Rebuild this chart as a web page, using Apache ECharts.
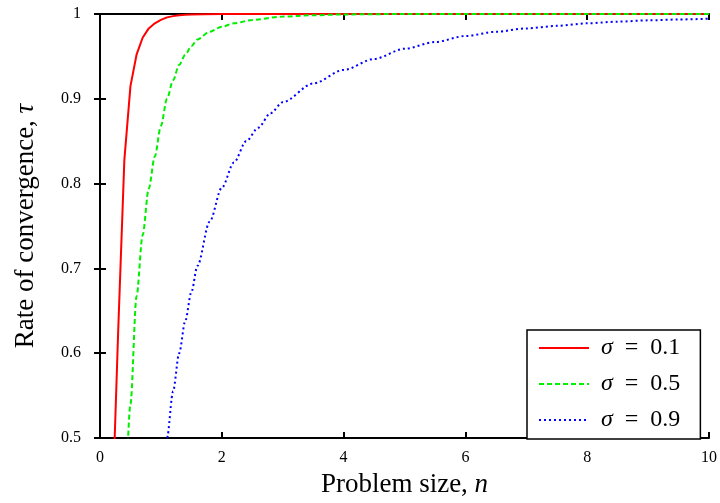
<!DOCTYPE html>
<html>
<head>
<meta charset="utf-8">
<script src="https://cdn.jsdelivr.net/npm/echarts@6/dist/echarts.min.js"></script>
<style>html,body{margin:0;padding:0;background:#fff}#c{width:720px;height:503px}</style>
</head>
<body>
<div id="c"></div>
<script>
// Data
const sigmaLabels = ['0.1', '0.5', '0.9'];

const redN   = [0.2, 0.3, 0.4, 0.5, 0.6, 0.7, 0.8, 0.9, 1.0, 1.1, 1.2, 1.3, 1.4, 1.5, 1.7, 2.0, 3, 4, 5, 6, 7, 8, 9, 10];
const redTau = [0.41, 0.629, 0.828, 0.915, 0.952, 0.972, 0.983, 0.989, 0.993, 0.996, 0.9975, 0.9985, 0.999, 0.9995, 0.9998, 1, 1, 1, 1, 1, 1, 1, 1, 1];

const greenN   = [0.4, 0.5, 0.6, 0.7, 0.8, 0.9, 1.0, 1.1, 1.2, 1.3, 1.4, 1.5, 1.6, 1.8, 2.0, 2.2, 2.5, 3.0, 3.5, 4.0, 5, 6, 7, 8, 9, 10];
const greenTau = [0.38, 0.54, 0.667, 0.739, 0.794, 0.832, 0.868, 0.9, 0.922, 0.94, 0.952, 0.962, 0.97, 0.979, 0.985, 0.989, 0.993, 0.997, 0.9985, 0.9995, 1, 1, 1, 1, 1, 1];

const blueN   = [1.0, 1.1, 1.2, 1.3, 1.4, 1.5, 1.6, 1.8, 2.0, 2.2, 2.4, 2.6, 2.8, 3.0, 3.5, 4.0, 4.5, 5.0, 5.5, 6.0, 6.5, 7.0, 7.5, 8.0, 8.5, 9.0, 9.5, 10];
const blueTau = [0.43, 0.5, 0.555, 0.6, 0.638, 0.672, 0.703, 0.755, 0.795, 0.825, 0.85, 0.866, 0.883, 0.896, 0.918, 0.934, 0.947, 0.959, 0.967, 0.974, 0.979, 0.983, 0.986, 0.989, 0.991, 0.9925, 0.9935, 0.9945];

const xTicks = [0, 2, 4, 6, 8, 10];
const yTicks = [0.5, 0.6, 0.7, 0.8, 0.9, 1];

function pairs(xs, ys) { return xs.map((x, i) => [x, ys[i]]); }

const FONT = '"Liberation Serif", "DejaVu Serif", serif';
const chart = echarts.init(document.getElementById('c'), null, {renderer: 'canvas'});

const axisLineStyle = {color: '#000', width: 2};
const tickStyle = {show: true, inside: true, length: 6, lineStyle: {color: '#000', width: 2}};
const seriesNames = ['s1', 's2', 's3'];

const option = {
  backgroundColor: '#fff',
  animation: false,
  grid: {left: 100, right: 10, top: 14, bottom: 57, containLabel: false},
  xAxis: [{
    type: 'value', min: xTicks[0], max: xTicks[xTicks.length - 1], interval: 2,
    position: 'bottom',
    axisLine: {show: true, lineStyle: axisLineStyle},
    axisTick: tickStyle,
    splitLine: {show: false},
    axisLabel: {color: '#000', fontFamily: FONT, fontSize: 16, margin: 12},
    name: 'Problem size, {i|n}',
    nameLocation: 'middle', nameGap: 33,
    nameTextStyle: {color: '#000', fontFamily: FONT, fontSize: 27,
      rich: {i: {fontStyle: 'italic', fontFamily: FONT, fontSize: 27, color: '#000'}}}
  }, {
    type: 'value', min: xTicks[0], max: xTicks[xTicks.length - 1], interval: 2,
    position: 'top',
    axisLine: {show: true, lineStyle: axisLineStyle},
    axisTick: tickStyle,
    splitLine: {show: false},
    axisLabel: {show: false}
  }],
  yAxis: [{
    type: 'value', min: yTicks[0], max: yTicks[yTicks.length - 1], interval: 0.1,
    position: 'left',
    axisLine: {show: true, lineStyle: axisLineStyle},
    axisTick: tickStyle,
    splitLine: {show: false},
    axisLabel: {color: '#000', fontFamily: FONT, fontSize: 16, margin: 19},
    name: 'Rate of convergence, {i|τ}',
    nameLocation: 'middle', nameGap: 61, nameRotate: 90,
    nameTextStyle: {color: '#000', fontFamily: FONT, fontSize: 27,
      rich: {i: {fontStyle: 'italic', fontFamily: FONT, fontSize: 27, color: '#000'}}}
  }, {
    type: 'value', min: yTicks[0], max: yTicks[yTicks.length - 1], interval: 0.1,
    position: 'right',
    axisLine: {show: true, lineStyle: axisLineStyle},
    axisTick: tickStyle,
    splitLine: {show: false},
    axisLabel: {show: false}
  }],
  legend: {
    orient: 'vertical', left: 527, top: 330,
    padding: [6, 20, 7, 11],
    backgroundColor: '#fff', borderColor: '#000', borderWidth: 1.5,
    itemWidth: 50, itemHeight: 24, itemGap: 12,
    itemStyle: {opacity: 0},
    formatter: function (name) {
      const idx = seriesNames.indexOf(name);
      return '{i|σ}  =  ' + sigmaLabels[idx];
    },
    textStyle: {color: '#000', fontFamily: FONT, fontSize: 24, padding: [0, 0, 0, 7],
      rich: {i: {fontStyle: 'italic', fontFamily: FONT, fontSize: 24, color: '#000'}}},
    data: seriesNames
  },
  series: [{
    name: 's1', type: 'line', data: pairs(redN, redTau), showSymbol: false, symbol: 'none',
    clip: true, lineStyle: {color: '#ff0000', width: 2, type: 'solid'}, itemStyle: {color: '#ff0000'}
  }, {
    name: 's2', type: 'line', data: pairs(greenN, greenTau), showSymbol: false, symbol: 'none',
    smooth: 0.3, smoothMonotone: 'x',
    clip: true, lineStyle: {color: '#00ee00', width: 2, type: [5, 3]}, itemStyle: {color: '#00ee00'}
  }, {
    name: 's3', type: 'line', data: pairs(blueN, blueTau), showSymbol: false, symbol: 'none',
    smooth: 0.3, smoothMonotone: 'x',
    clip: true, lineStyle: {color: '#0000ff', width: 2, type: [2, 3]}, itemStyle: {color: '#0000ff'}
  }]
};
chart.setOption(option);
</script>
</body>
</html>
